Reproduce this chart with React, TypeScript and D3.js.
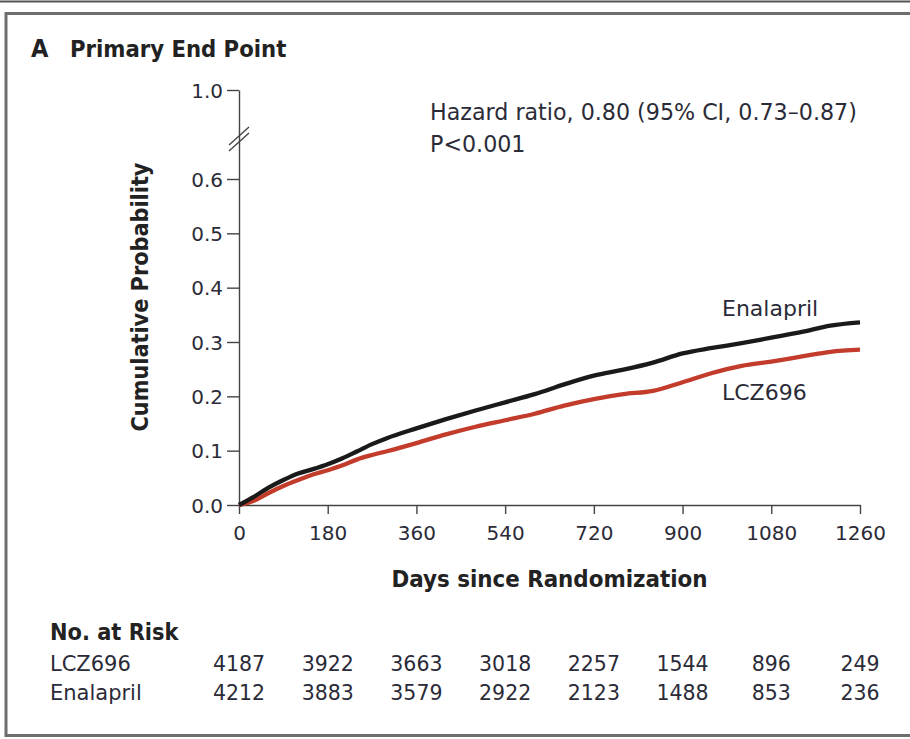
import React, { useEffect, useRef } from "react";
import * as d3 from "d3";

const days = [0, 30, 60, 90, 120, 150, 180, 210, 240, 270, 300, 360, 420, 480, 540, 600, 660, 720, 780, 840, 900, 960, 1020, 1080, 1140, 1200, 1260];
const enalapril = [0, 0.015, 0.032, 0.046, 0.058, 0.066, 0.075, 0.086, 0.099, 0.112, 0.123, 0.141, 0.158, 0.174, 0.189, 0.204, 0.222, 0.238, 0.249, 0.262, 0.279, 0.289, 0.298, 0.308, 0.318, 0.33, 0.336];
const lcz696 = [0, 0.008, 0.022, 0.035, 0.046, 0.056, 0.064, 0.073, 0.084, 0.092, 0.099, 0.114, 0.13, 0.144, 0.156, 0.168, 0.183, 0.195, 0.204, 0.21, 0.226, 0.243, 0.256, 0.264, 0.273, 0.282, 0.286];

const xTicks = [0, 180, 360, 540, 720, 900, 1080, 1260];
const yTicks = [0, 0.1, 0.2, 0.3, 0.4, 0.5, 0.6, 1.0];
const riskDays = [0, 180, 360, 540, 720, 900, 1080, 1260];
const riskLCZ = [4187, 3922, 3663, 3018, 2257, 1544, 896, 249];
const riskEna = [4212, 3883, 3579, 2922, 2123, 1488, 853, 236];

const W = 910, H = 739;
const FONT = "'DejaVu Sans', sans-serif";
const FONT_B = "'DejaVu Sans Condensed', 'DejaVu Sans', sans-serif";
const TXT = "#2b2b38";

export default function App() {
  const ref = useRef<SVGSVGElement>(null);
  useEffect(() => {
    const svg = d3.select(ref.current);
    svg.selectAll("*").remove();
    const x = d3.scaleLinear().domain([0, 1260]).range([239, 860]);
    const y = d3.scaleLinear().domain([0, 0.6, 1.0]).range([505, 179, 90]);

    // frame
    svg.append("line").attr("x1", 0).attr("x2", W).attr("y1", 1.5).attr("y2", 1.5).attr("stroke", "#555").attr("stroke-width", 2);
    svg.append("rect").attr("x", 6).attr("y", 13.5).attr("width", 920).attr("height", 722).attr("fill", "none").attr("stroke", "#6e6e6e").attr("stroke-width", 3);

    // title
    svg.append("text").attr("x", 31).attr("y", 57).attr("font-family", FONT_B).attr("font-weight", "bold").attr("font-size", 25).attr("fill", "#222").text("A");
    svg.append("text").attr("x", 70).attr("y", 57).attr("font-family", FONT_B).attr("font-weight", "bold").attr("font-size", 23.6).attr("fill", "#222").text("Primary End Point");

    // axes
    const xa = svg.append("g").attr("transform", `translate(0,${y(0)})`).call(d3.axisBottom(x).tickValues(xTicks).tickSize(9).tickSizeOuter(0).tickFormat(d3.format("d")));
    xa.selectAll("text").attr("y", 0).attr("dy", 0).attr("transform", "translate(0,35)").attr("font-size", 20).attr("font-family", FONT).attr("fill", TXT);
    const ya = svg.append("g").attr("transform", `translate(${x(0)},0)`).call(d3.axisLeft(y).tickValues(yTicks).tickSize(12).tickSizeOuter(0).tickFormat(d3.format(".1f")));
    ya.selectAll("text").attr("x", -16).attr("dy", "0.36em").attr("font-size", 20).attr("font-family", FONT).attr("fill", TXT);
    svg.selectAll(".domain, .tick line").attr("stroke", "#444").attr("stroke-width", 1.4);

    // break marks
    const by = y(0.78);
    [-3, 3].forEach((o) => {
      svg.append("line").attr("x1", x(0) - 10).attr("x2", x(0) + 10).attr("y1", by + o + 9).attr("y2", by + o - 9).attr("stroke", "#444").attr("stroke-width", 1.4);
    });

    // axis labels
    svg.append("text").attr("transform", `translate(148,${(y(0) + y(0.6)) / 2 - 45}) rotate(-90)`).attr("text-anchor", "middle").attr("font-family", FONT_B).attr("font-weight", "bold").attr("font-size", 23.2).attr("fill", "#222").text("Cumulative Probability");
    svg.append("text").attr("x", (x(0) + x(1260)) / 2).attr("y", 587).attr("text-anchor", "middle").attr("font-family", FONT_B).attr("font-weight", "bold").attr("font-size", 23.8).attr("fill", "#222").text("Days since Randomization");

    // curves
    const line = d3.line<number>().x((_, i) => x(days[i])).y((d) => y(d)).curve(d3.curveMonotoneX);
    svg.append("path").attr("d", line(lcz696)!).attr("fill", "none").attr("stroke", "#c23b2b").attr("stroke-width", 4.3).attr("stroke-linejoin", "round");
    svg.append("path").attr("d", line(enalapril)!).attr("fill", "none").attr("stroke", "#1a1a1a").attr("stroke-width", 4.3).attr("stroke-linejoin", "round");

    // annotations
    svg.append("text").attr("x", 430).attr("y", 120).attr("font-family", FONT).attr("font-size", 22.2).attr("fill", TXT).text("Hazard ratio, 0.80 (95% CI, 0.73–0.87)");
    svg.append("text").attr("x", 430).attr("y", 152).attr("font-family", FONT).attr("font-size", 22.2).attr("fill", TXT).text("P<0.001");
    svg.append("text").attr("x", 722).attr("y", 316).attr("font-family", FONT).attr("font-size", 22).attr("fill", TXT).text("Enalapril");
    svg.append("text").attr("x", 722).attr("y", 400).attr("font-family", FONT).attr("font-size", 22).attr("fill", TXT).text("LCZ696");

    // risk table
    svg.append("text").attr("x", 50).attr("y", 640).attr("font-family", FONT_B).attr("font-weight", "bold").attr("font-size", 23.3).attr("fill", "#222").text("No. at Risk");
    const rows: [string, number[], number][] = [["LCZ696", riskLCZ, 671], ["Enalapril", riskEna, 700]];
    rows.forEach(([label, vals, yy]) => {
      svg.append("text").attr("x", 50).attr("y", yy).attr("font-family", FONT).attr("font-size", 21).attr("fill", TXT).text(label);
      svg.selectAll(null).data(vals).enter().append("text")
        .attr("x", (_, i) => x(riskDays[i])).attr("y", yy).attr("text-anchor", "middle")
        .attr("font-family", FONT).attr("font-size", 20.5).attr("fill", TXT).text((d) => String(d));
    });
  }, []);
  return <svg ref={ref} width={W} height={H} style={{ position: "absolute", left: 0, top: 0, background: "#fff" }} />;
}
